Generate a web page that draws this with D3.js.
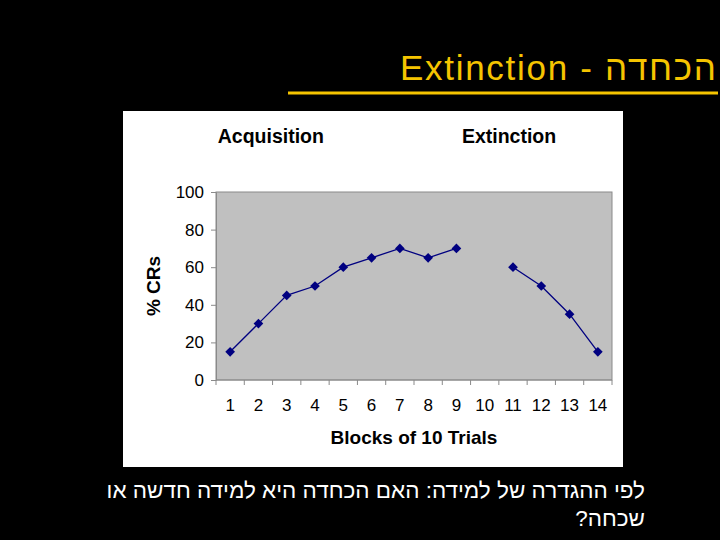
<!DOCTYPE html>
<html>
<head>
<meta charset="utf-8">
<script src="https://cdn.jsdelivr.net/npm/d3@7"></script>
<style>
  html, body { margin: 0; padding: 0; background: #000; }
  svg { display: block; }
</style>
</head>
<body>
<script>
// data
var blocks = ["1", "2", "3", "4", "5", "6", "7", "8", "9", "10", "11", "12", "13", "14"];
var pctCRs = [15, 30, 45, 50, 60, 65, 70, 65, 70, null, 60, 50, 35, 15];
var yTicks = [0, 20, 40, 60, 80, 100];
var phaseLabels = ["Acquisition", "Extinction"];
var phaseAt = [1.94, 10.36]; // label centres, in block widths from the left edge

var width = 720;
var height = 540;
var font = "Liberation Sans, Arial, sans-serif";

var svg = d3.select("body")
    .append("svg")
    .attr("width", width)
    .attr("height", height);

svg.append("rect")
    .attr("width", width)
    .attr("height", height)
    .attr("fill", "#000");

// slide title
svg.append("text")
    .attr("x", 716)
    .attr("y", 80)
    .attr("text-anchor", "end")
    .attr("font-family", font)
    .attr("font-size", 35)
    .attr("textLength", 316)
    .attr("lengthAdjust", "spacing")
    .attr("fill", "#f5c400")
    .text("Extinction - הכחדה");

svg.append("line")
    .attr("x1", 288).attr("x2", 718)
    .attr("y1", 93).attr("y2", 93)
    .attr("stroke", "#f5c400")
    .attr("stroke-width", 3);

// white chart panel
svg.append("rect")
    .attr("x", 123).attr("y", 111)
    .attr("width", 500).attr("height", 356)
    .attr("fill", "#fff");

var plot = { left: 216, top: 192, right: 612, bottom: 380 };

var x = d3.scaleBand()
    .domain(blocks)
    .range([plot.left, plot.right]);

var y = d3.scaleLinear()
    .domain([0, 100])
    .range([plot.bottom, plot.top]);

var g = svg.append("g");

g.append("rect")
    .attr("x", plot.left).attr("y", plot.top)
    .attr("width", plot.right - plot.left)
    .attr("height", plot.bottom - plot.top)
    .attr("fill", "#c0c0c0")
    .attr("stroke", "#8a8a8a")
    .attr("stroke-width", 1);

// x axis: ticks on band boundaries
var xAxis = g.append("g")
    .attr("transform", "translate(0," + plot.bottom + ")");

xAxis.append("line")
    .attr("x1", plot.left).attr("x2", plot.right)
    .attr("stroke", "#8a8a8a");

xAxis.selectAll(".tick")
    .data(blocks.concat(["end"]))
    .join("line")
    .attr("class", "tick")
    .attr("x1", (d, i) => i < blocks.length ? x(d) : plot.right)
    .attr("x2", (d, i) => i < blocks.length ? x(d) : plot.right)
    .attr("y1", 0).attr("y2", 5)
    .attr("stroke", "#8a8a8a");

xAxis.selectAll(".lbl")
    .data(blocks)
    .join("text")
    .attr("class", "lbl")
    .attr("x", d => x(d) + x.bandwidth() / 2)
    .attr("y", 31)
    .attr("text-anchor", "middle")
    .attr("font-family", font)
    .attr("font-size", 17)
    .attr("fill", "#000")
    .text(d => d);

// y axis
var yAxis = g.append("g")
    .attr("transform", "translate(" + plot.left + ",0)")
    .call(d3.axisLeft(y).tickValues(yTicks).tickSize(5).tickPadding(7));

yAxis.select(".domain").attr("stroke", "#8a8a8a");
yAxis.selectAll(".tick line").attr("stroke", "#8a8a8a");
yAxis.selectAll(".tick text")
    .attr("font-family", font)
    .attr("font-size", 17)
    .attr("fill", "#000");

// axis titles
g.append("text")
    .attr("x", (plot.left + plot.right) / 2)
    .attr("y", 444)
    .attr("text-anchor", "middle")
    .attr("font-family", font)
    .attr("font-weight", "bold")
    .attr("font-size", 19)
    .text("Blocks of 10 Trials");

g.append("text")
    .attr("transform", "translate(160," + (plot.top + plot.bottom) / 2 + ") rotate(-90)")
    .attr("text-anchor", "middle")
    .attr("font-family", font)
    .attr("font-weight", "bold")
    .attr("font-size", 19)
    .text("% CRs");

// phase labels
g.selectAll(".phase")
    .data(phaseLabels)
    .join("text")
    .attr("class", "phase")
    .attr("x", (d, i) => plot.left + phaseAt[i] * x.step())
    .attr("y", 143)
    .attr("text-anchor", "middle")
    .attr("font-family", font)
    .attr("font-weight", "bold")
    .attr("font-size", 19.5)
    .text(d => d);

// line with gap at block 10
var line = d3.line()
    .defined(d => d !== null)
    .x((d, i) => x(blocks[i]) + x.bandwidth() / 2)
    .y(d => y(d));

g.append("path")
    .datum(pctCRs)
    .attr("fill", "none")
    .attr("stroke", "#000080")
    .attr("stroke-width", 1.3)
    .attr("d", line);

var pts = pctCRs.map((v, i) => ({ b: blocks[i], v: v })).filter(d => d.v !== null);

g.selectAll(".pt")
    .data(pts)
    .join("path")
    .attr("class", "pt")
    .attr("d", d3.symbol().type(d3.symbolDiamond2).size(60))
    .attr("transform", d => "translate(" + (x(d.b) + x.bandwidth() / 2) + "," + y(d.v) + ")")
    .attr("fill", "#000080");

// bottom caption (Hebrew, right to left)
var caption = ["לפי ההגדרה של למידה: האם הכחדה היא למידה חדשה או", "שכחה?"];
svg.selectAll(".cap")
    .data(caption)
    .join("text")
    .attr("class", "cap")
    .attr("x", 645)
    .attr("y", (d, i) => 498 + i * 28)
    .attr("direction", "rtl")
    .attr("text-anchor", "start")
    .attr("font-family", font)
    .attr("font-size", 22.5)
    .attr("fill", "#fff")
    .text(d => d);
</script>
</body>
</html>
